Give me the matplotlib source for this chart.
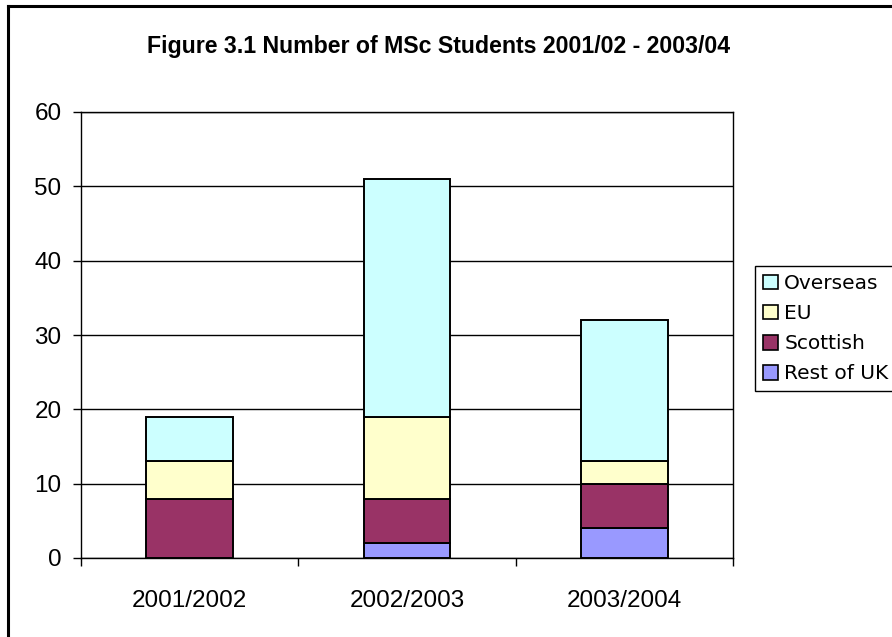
import numpy as np
import matplotlib.pyplot as plt
from matplotlib.lines import Line2D
from matplotlib.patches import Patch

years = ['2001/2002', '2002/2003', '2003/2004']
rest_of_uk = [0, 2, 4]
scottish = [8, 6, 6]
eu = [5, 11, 3]
overseas = [6, 32, 19]

series = [
    ('Rest of UK', rest_of_uk, '#9999FF'),
    ('Scottish', scottish, '#993366'),
    ('EU', eu, '#FFFFCC'),
    ('Overseas', overseas, '#CCFFFF'),
]

fig = plt.figure(figsize=(8.92, 6.37), dpi=100)

# border lines along top and left edge of the chart area
fig.add_artist(Line2D([8 / 892, 8 / 892], [0, 1 - 6 / 637], transform=fig.transFigure,
                      color='black', lw=2.2))
fig.add_artist(Line2D([8 / 892, 1], [1 - 6 / 637, 1 - 6 / 637], transform=fig.transFigure,
                      color='black', lw=2.2))

ax = fig.add_axes([81 / 892, 79 / 637, 652 / 892, 446 / 637])

x = np.arange(len(years))
bottom = np.zeros(len(years))
handles = []
for name, vals, color in series:
    ax.bar(x, vals, width=0.4, bottom=bottom, color=color, edgecolor='black',
           linewidth=1.4, zorder=3)
    bottom += np.array(vals)
    handles.append(Patch(facecolor=color, edgecolor='black', linewidth=1.2, label=name))

ax.set_xlim(-0.5, 2.5)
ax.set_ylim(0, 60)
ax.set_yticks(range(0, 61, 10))
ax.yaxis.grid(True, color='black', linewidth=1, zorder=0)
ax.set_axisbelow(True)

ax.set_xticks(x)
ax.set_xticklabels(years, fontsize=17.5, family='Liberation Sans')
ax.tick_params(axis='x', which='major', length=0, pad=23)
ax.set_xticks([-0.5, 0.5, 1.5, 2.5], minor=True)
ax.tick_params(axis='x', which='minor', length=6, width=1, direction='out')
ax.tick_params(axis='y', length=6, width=1, direction='out', pad=8)
for lab in ax.get_yticklabels():
    lab.set_fontsize(17.5)
    lab.set_family('Liberation Sans')

for sp in ax.spines.values():
    sp.set_color('black')
    sp.set_linewidth(1)

fig.text(439 / 892, 1 - 47 / 637, 'Figure 3.1 Number of MSc Students 2001/02 - 2003/04',
         ha='center', va='center', fontsize=16.7, fontweight='bold',
         family='Liberation Sans')

leg = fig.legend(handles=handles[::-1], loc='upper left',
                 bbox_to_anchor=(755 / 892, 1 - 266 / 637), fontsize=14.5,
                 frameon=True, fancybox=False, edgecolor='black', framealpha=1,
                 handlelength=0.75, handleheight=0.75, handletextpad=0.3,
                 labelspacing=0.55, borderpad=0.4, borderaxespad=0)
leg.get_frame().set_linewidth(1)

fig.savefig('out.png', dpi=100, facecolor='white')
